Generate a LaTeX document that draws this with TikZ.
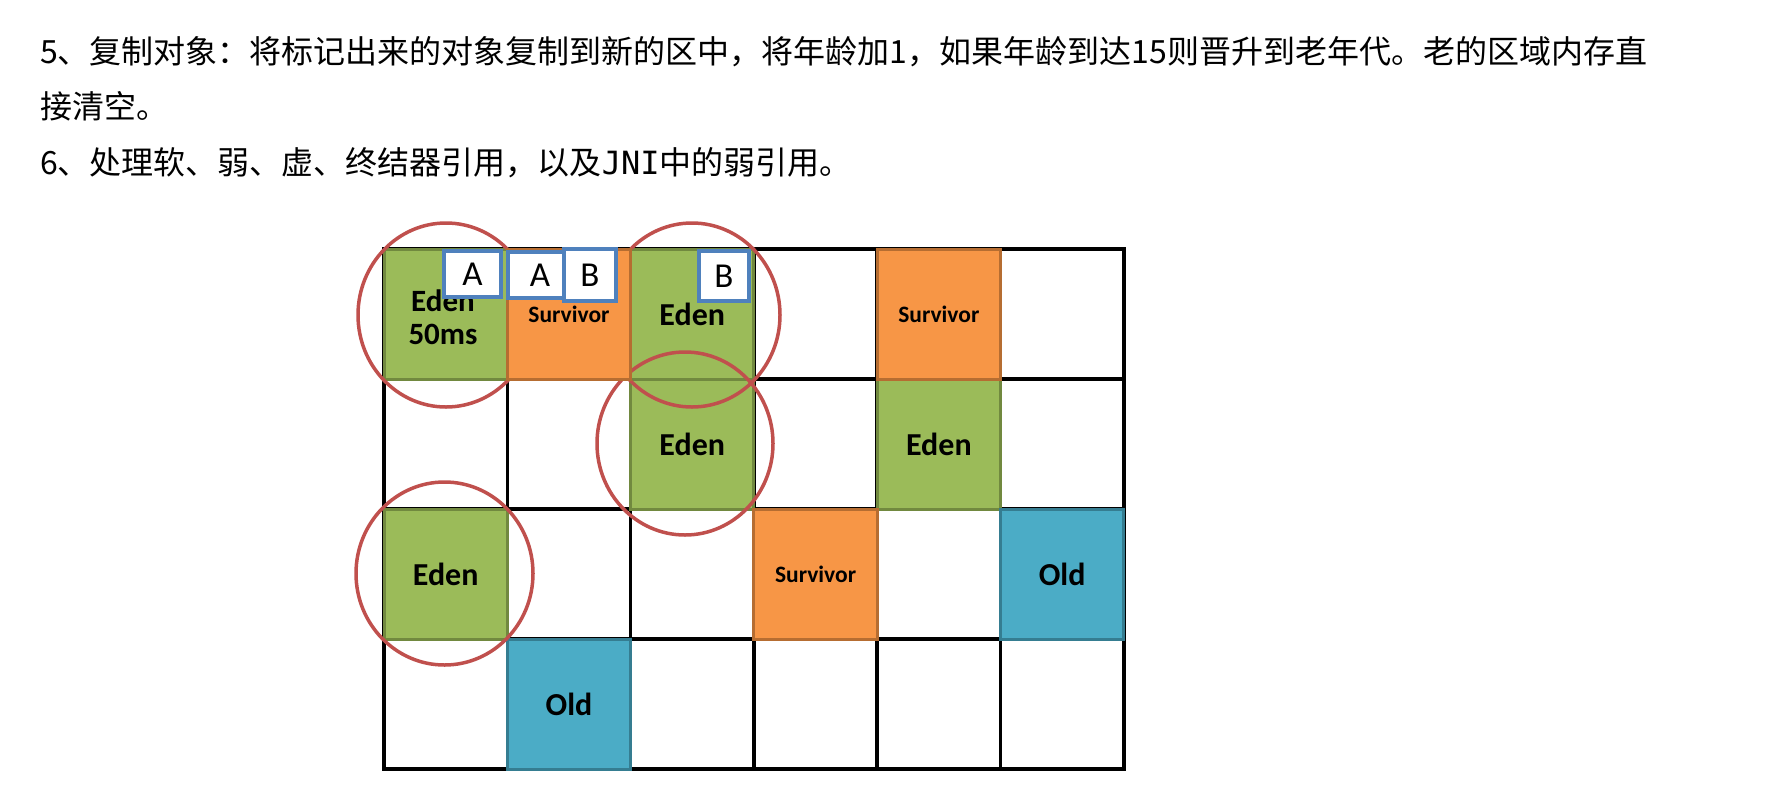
\documentclass[tikz,border=0pt]{standalone}
\usepackage{fontspec}
\setmainfont{Carlito}
\newfontfamily\cjkfont{Noto Sans CJK SC}
\newfontfamily\monofont{DejaVu Sans Mono}
\definecolor{edenfill}{HTML}{9BBB59}
\definecolor{edenline}{HTML}{71893F}
\definecolor{survfill}{HTML}{F79646}
\definecolor{survline}{HTML}{B66D31}
\definecolor{oldfill}{HTML}{4BACC6}
\definecolor{oldline}{HTML}{357D91}
\definecolor{ringred}{HTML}{C0504D}
\definecolor{tagblue}{HTML}{4F81BD}
\tikzset{
  gridline/.style={draw=black, line width=3.5pt, line cap=rect},
  cellbox/.style={minimum width=123.3pt, minimum height=130pt, inner sep=0pt, line width=3pt, font=\bfseries\fontsize{32}{34}\selectfont, align=center},
  eden/.style={cellbox, fill=edenfill, draw=edenline},
  surv/.style={cellbox, fill=survfill, draw=survline, font=\bfseries\fontsize{23.5}{26}\selectfont},
  old/.style={cellbox, fill=oldfill, draw=oldline},
  ring/.style={draw=ringred, line width=3.5pt},
  tag/.style={draw=tagblue, fill=white, line width=3.5pt, inner sep=0pt, font=\fontsize{35}{35}\selectfont},
  para/.style={anchor=base west, inner sep=0pt, font=\cjkfont\fontsize{32}{32}\selectfont}
}
\begin{document}
\begin{tikzpicture}[x=1pt,y=-1pt]
\useasboundingbox (0,0) rectangle (1772,796);
% text
\node[para] (t1) at (40,63) {5、复制对象：将标记出来的对象复制到新的区中，将年龄加1，如果年龄到达15则晋升到老年代。老的区域内存直};
\node[para] (t2) at (40,118) {接清空。};
\node[para] (t3) at (40,174) {6、处理软、弱、虚、终结器引用，以及{\monofont JNI}中的弱引用。};
% grid
\foreach \i in {0,...,6} {\draw[gridline] (384+\i*123.3,249) -- (384+\i*123.3,769);}
\foreach \j in {0,...,4} {\draw[gridline] (384,249+\j*130) -- (1124,249+\j*130);}
% green and blue cells
\node[eden] (e11) at (445.65,314) {};
\node[font=\bfseries\fontsize{31}{33}\selectfont, align=center, inner sep=0pt] (e11t) at (443,317) {Eden\\50ms};
\node[eden] (e13) at (692.25,314) {Eden};
\node[eden] (e23) at (692.25,444) {Eden};
\node[eden] (e25) at (938.85,444) {Eden};
\node[eden] (e31) at (445.65,574) {Eden};
\node[old] (o36) at (1062.15,574) {Old};
\node[old] (o42) at (568.95,704) {Old};
% rings
\draw[ring] (446,315) ellipse [x radius=88, y radius=92];
\draw[ring] (692,315) ellipse [x radius=88, y radius=92];
\draw[ring] (685,443.5) ellipse [x radius=88, y radius=91.5];
\draw[ring] (444.5,573.5) ellipse [x radius=88.5, y radius=91.5];
% orange cells
\node[surv] (s12) at (568.95,314) {Survivor};
\node[surv] (s15) at (938.85,314) {Survivor};
\node[surv] (s34) at (815.55,574) {Survivor};
% tags
\node[tag, minimum width=57pt, minimum height=46pt] (a1) at (472.5,274) {A};
\node[tag, minimum width=64pt, minimum height=46pt] (a2) at (540,275) {A};
\node[tag, minimum width=52pt, minimum height=52pt] (b2) at (590,275) {B};
\node[tag, minimum width=50pt, minimum height=50pt] (b3) at (724,276) {B};
\end{tikzpicture}
\end{document}
